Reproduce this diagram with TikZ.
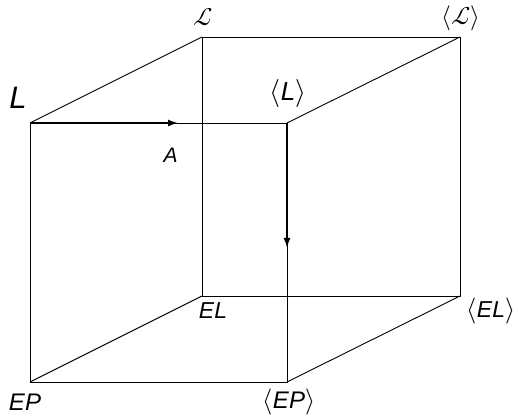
\documentclass[tikz,border=0pt]{standalone}
\usepackage{unicode-math}
\setmainfont{Liberation Sans}
\setmathfont{Latin Modern Math}
\usetikzlibrary{arrows.meta}
\newcommand\brkL[1]{{\fontsize{#1}{#1}\selectfont$\langle$}}
\newcommand\brkR[1]{{\fontsize{#1}{#1}\selectfont$\rangle$}}
\begin{document}
\begin{tikzpicture}[x=1pt,y=1pt,
  edge/.style={line width=0.9pt},
  arr/.style={line width=1.5pt,-{Latex[length=10pt,width=7pt]}},
  lbl/.style={inner sep=0pt}]
\useasboundingbox (0,0) rectangle (518,419);
\coordinate (FTL) at (30,296);
\coordinate (FTR) at (287,296);
\coordinate (FBL) at (30,37);
\coordinate (FBR) at (287,37);
\coordinate (BTL) at (202,382);
\coordinate (BTR) at (460,382);
\coordinate (BBL) at (202,123);
\coordinate (BBR) at (460,123);
\coordinate (Atip) at (178,296);
\coordinate (Vtip) at (287,171);
\draw[edge] (FTL) -- (FTR) -- (FBR) -- (FBL) -- cycle;
\draw[edge] (BTL) -- (BTR) -- (BBR) -- (BBL) -- cycle;
\draw[edge] (FTL) -- (BTL);
\draw[edge] (FTR) -- (BTR);
\draw[edge] (FBL) -- (BBL);
\draw[edge] (FBR) -- (BBR);
\draw[arr] (FTL) -- (Atip);
\draw[arr] (FTR) -- (Vtip);
\node[lbl,font=\fontsize{31}{31}\selectfont\itshape] (nL) at (18,321) {L};
\node[lbl,font=\fontsize{26}{26}\selectfont\itshape] (nLL) at (288,325) {\brkL{28}L\brkR{28}};
\node[lbl,font=\fontsize{21}{21}\selectfont\itshape] (nA) at (170.5,264) {A};
\node[lbl,font=\fontsize{25}{25}\selectfont] (nC) at (203,402) {$\mathcal{L}$};
\node[lbl,font=\fontsize{25}{25}\selectfont] (nCC) at (461,401) {$\langle\mathcal{L}\rangle$};
\node[lbl,font=\fontsize{23}{23}\selectfont\itshape] (nEL) at (213,108) {EL};
\node[lbl,font=\fontsize{23}{23}\selectfont\itshape] (nELL) at (491,108) {\brkL{26}EL\brkR{26}};
\node[lbl,font=\fontsize{24}{24}\selectfont\itshape] (nEP) at (25,17) {EP};
\node[lbl,font=\fontsize{24}{24}\selectfont\itshape] (nEPP) at (289,17) {\brkL{26}EP\brkR{26}};
\end{tikzpicture}
\end{document}
